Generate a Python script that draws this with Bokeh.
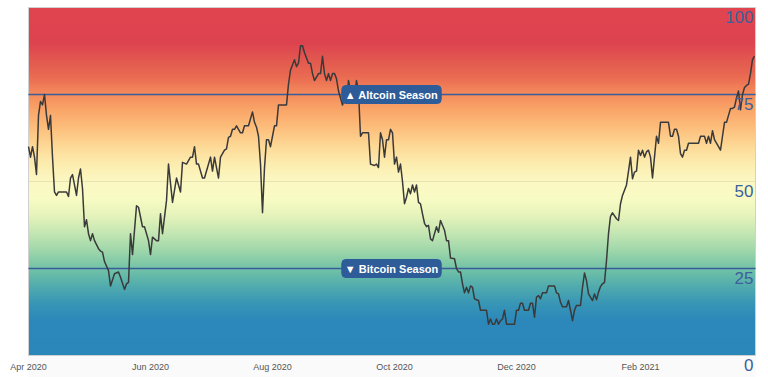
import numpy as np
import pandas as pd
from bokeh.plotting import figure
from bokeh.models import Range1d, Label, ColumnDataSource
from bokeh.core.properties import value
from bokeh.embed import file_html
from bokeh.resources import INLINE

# ---------------- data ----------------
start_date = "2020-04-01"
end_day = 363.5

day_offsets = [
    0, 1, 2, 3, 4, 5, 6, 7, 8, 9, 10, 11, 12, 13, 14, 15, 17, 19, 20, 21, 22, 23, 24, 25, 26, 27,
    28, 29, 30, 31, 32, 33, 35, 36, 37, 38, 40, 41, 43, 45, 46, 48, 49, 50, 51, 52, 54, 55, 57, 58,
    60, 61, 62, 64, 65, 66, 67, 69, 70, 72, 74, 76, 77, 79, 81, 82, 83, 84, 85, 87, 88, 89, 91, 92,
    93, 95, 96, 98, 99, 100, 101, 102, 103, 104, 106, 107, 108, 110, 112, 113, 114, 115, 116, 117,
    118, 119, 120, 121, 122, 123, 124, 125, 126, 129, 130, 131, 133, 134, 135, 136, 137, 138, 140,
    141, 142, 143, 145, 146, 147, 148, 149, 150, 151, 152, 153, 154, 155, 157, 158, 159, 160, 161,
    163, 164, 165, 166, 167, 169, 170, 171, 173, 174, 175, 176, 177, 178, 179, 180, 181, 182, 183,
    184, 185, 186, 187, 188, 189, 190, 191, 192, 193, 194, 195, 196, 197, 198, 199, 200, 201, 202,
    204, 205, 206, 208, 209, 210, 211, 213, 214, 215, 216, 217, 218, 219, 220, 221, 222, 223, 224,
    225, 226, 228, 229, 230, 231, 232, 233, 234, 235, 236, 237, 238, 239, 240, 241, 243, 244, 245,
    246, 247, 248, 250, 251, 252, 253, 254, 255, 256, 257, 259, 260, 262, 263, 264, 265, 266, 267,
    269, 270, 271, 272, 273, 274, 276, 277, 278, 279, 280, 282, 283, 284, 285, 286, 287, 288, 289,
    290, 291, 292, 294, 295, 296, 297, 299, 300, 301, 302, 303, 304, 305, 306, 307, 308, 309, 310,
    311, 312, 313, 314, 315, 316, 318, 320, 321, 322, 323, 324, 325, 326, 327, 328, 329, 330, 332,
    334, 335, 336, 337, 338, 339, 340, 341, 342, 343, 345, 346, 347, 348, 349, 350, 351, 352, 353,
    354, 355, 356, 357, 358, 359, 360, 361, 362, 363,
]

index_values = [
    60, 57, 60, 57, 52, 69, 73, 72, 75, 69, 65, 69, 57, 47, 46, 47, 47, 47, 45.7, 51, 52, 49, 46, 51, 53.6, 48,
    37, 39, 35, 33, 35, 33, 30.7, 30, 29.7, 27, 24.4, 20, 23.5, 24, 22.5, 19, 20.6, 21, 35, 29, 43, 42.6, 37, 37,
    33, 29, 34, 33, 33, 40.7, 35, 44.5, 55, 44, 51, 47, 55.5, 55, 57, 57, 60, 55, 55, 51, 51, 53, 57, 53,
    57, 51, 57, 59, 59.4, 62.7, 63, 65, 65, 66, 64, 64, 66, 66, 70, 67, 65.6, 63, 55, 41,
    54, 62, 62, 60, 63, 66, 66, 72, 72, 72, 78, 82, 85, 83, 84, 89, 89, 87, 84,
    84, 81, 79, 81, 81, 86, 81, 79, 81, 79, 81, 81, 79.5, 76, 72, 74, 72.8, 79, 76,
    75, 79, 76, 63, 64, 64, 64, 55, 54.6, 55, 54, 64, 62, 57, 62, 62, 65, 64, 55,
    57, 52.7, 55, 50, 43.6, 45.5, 48, 46.5, 49, 47, 49, 44, 43.6, 40.7, 38, 37, 37.4, 33.5, 33,
    37, 35.4, 38.8, 36, 33, 33, 28, 27.8, 25, 24, 24, 20.6, 18, 19.6, 18, 20, 19.6, 16.3, 16,
    15.8, 13, 13, 13, 9, 10.5, 9, 9, 10.5, 9, 10, 10.5, 13, 9, 9, 9, 9, 13, 13,
    15, 15, 13, 13, 15, 15, 11, 16.8, 17.2, 16.3, 18, 18, 20, 20, 20, 18, 17.7, 15.3, 14,
    14, 15.8, 13, 10, 13, 14.4, 14.4, 19.6, 23.7, 21.5, 17.7, 15.8, 17.7, 16, 18.2, 19.8, 20.6, 21, 27.3,
    35, 40, 41, 39.3, 38.8, 43.6, 46, 49, 53, 57, 50.8, 52.7, 53, 59, 57.5, 59, 57, 58.5, 59,
    57, 51, 57, 63, 61, 67, 67, 67, 63, 63, 65, 65, 63, 58, 57, 59, 59, 61, 61,
    61, 61, 63, 63, 63, 61, 63, 61, 64.6, 62, 60, 59, 63, 67, 67, 69, 71, 71, 71.4,
    74, 76, 70.6, 75, 77, 77.6, 78, 81, 85, 86,
]

x_tick_dates = ["2020-04-01", "2020-06-01", "2020-08-01", "2020-10-01", "2020-12-01", "2021-02-01"]
x_tick_labels = ["Apr 2020", "Jun 2020", "Aug 2020", "Oct 2020", "Dec 2020", "Feb 2021"]
y_tick_values = [0, 25, 50, 75, 100]
altcoin_threshold = 75
bitcoin_threshold = 25
season_labels = ["\u25B2 Altcoin Season", "\u25BC Bitcoin Season"]
season_label_day = 181.5

# ---------------- helpers / styles ----------------
def to_ms(ts):
    return pd.Timestamp(ts).value / 1e6

DAY_MS = 86400000.0
t0 = pd.Timestamp(start_date)
dates = [t0 + pd.Timedelta(days=d) for d in day_offsets]
x_start = to_ms(t0)
x_end = to_ms(t0 + pd.Timedelta(days=end_day))

W, H = 768, 377
FRAME_L, FRAME_R, FRAME_T, FRAME_B = 28, 755, 7, 355
px_per_day = (FRAME_R - FRAME_L) / end_day
px_per_unit = (FRAME_B - FRAME_T) / 100.0
view_x0 = x_start - FRAME_L / px_per_day * DAY_MS
view_x1 = x_end + (W - FRAME_R) / px_per_day * DAY_MS
view_y1 = 100 + FRAME_T / px_per_unit
view_y0 = 0 - (H - FRAME_B) / px_per_unit

gradient_stops = [
    (0, "#2b87b9"), (10, "#2c88ba"), (15, "#3896b6"), (20, "#51acae"), (25, "#73c3a6"),
    (30, "#9dd6aa"), (35, "#c3e6b3"), (40, "#e4f3ba"), (45, "#f8fbc4"), (50, "#fbf8c3"),
    (55, "#fcedaf"), (60, "#fdda97"), (65, "#fdc07e"), (70, "#faa86b"), (75, "#f48c5c"),
    (80, "#ea6b52"), (85, "#e2584f"), (90, "#dd424f"), (100, "#e0454f"),
]

def hex_to_rgb(h):
    h = h.lstrip("#")
    return np.array([int(h[i:i + 2], 16) for i in (0, 2, 4)], dtype=float)

stop_pos = np.array([s[0] for s in gradient_stops], dtype=float)
stop_rgb = np.array([hex_to_rgb(s[1]) for s in gradient_stops])

n_rows = 348
row_mid = (np.arange(n_rows) + 0.5) / n_rows * 100.0  # row 0 = bottom
img = np.zeros((n_rows, 1), dtype=np.uint32)
view = img.view(dtype=np.uint8).reshape((n_rows, 1, 4))
for k in range(3):
    view[:, 0, k] = np.round(np.interp(row_mid, stop_pos, stop_rgb[:, k])).astype(np.uint8)
view[:, 0, 3] = 255

p = figure(
    width=W, height=H, output_backend="svg", toolbar_location=None,
    x_range=Range1d(view_x0, view_x1), y_range=Range1d(view_y0, view_y1),
    min_border=0, min_border_left=0, min_border_right=0, min_border_top=0, min_border_bottom=0,
)
p.background_fill_color = "white"
p.border_fill_color = "white"
p.outline_line_color = None
p.grid.visible = False
p.axis.visible = False

# soft shadow under the chart area
p.quad(left=[x_start], right=[x_end], bottom=[-6.3], top=[0], fill_color="#f6f6f6",
       fill_alpha=0.6, line_color=None)

# background gradient
p.image_rgba(image=[img], x=x_start, y=0, dw=x_end - x_start, dh=100)

# faint grid line at 50
p.segment(x0=[x_start], x1=[x_end], y0=[50], y1=[50], line_color="#000000",
          line_alpha=0.08, line_width=1)

# frame outline
p.quad(left=[x_start], right=[x_end], bottom=[0], top=[100], fill_color=None,
       line_color="#d0d0d0", line_width=1)

# thresholds
p.segment(x0=[x_start, x_start], x1=[x_end, x_end], y0=[altcoin_threshold, bitcoin_threshold],
          y1=[altcoin_threshold, bitcoin_threshold], line_color="#3a5d9a", line_width=1.6)

# data line
src = ColumnDataSource(dict(x=[to_ms(d) for d in dates], y=index_values))
p.line("x", "y", source=src, line_color="#3a3a3a", line_width=1.5, line_join="round")

# season labels
label_x = to_ms(t0 + pd.Timedelta(days=season_label_day))
for txt, thr in zip(season_labels, (altcoin_threshold, bitcoin_threshold)):
    p.add_layout(Label(
        x=label_x, y=thr, text=txt, text_align="center", text_baseline="middle",
        text_color="white", text_font="Liberation Sans", text_font_style="bold",
        text_font_size="11px", background_fill_color="#2e5c99",
        border_line_color="#2e5c99", padding=3, border_radius=4,
    ))

# y tick labels (inside, right)
p.text(x=[x_end] * len(y_tick_values), y=y_tick_values, text=[str(v) for v in y_tick_values],
       x_offset=-2, y_offset=3, text_align="right", text_baseline="top",
       text_color="#3d5f9b", text_font=value("Liberation Sans"), text_font_size="17px")

# x tick labels
p.text(x=[to_ms(d) for d in x_tick_dates], y=[0] * len(x_tick_dates), text=x_tick_labels,
       y_offset=11, text_align="center", text_baseline="middle",
       text_color="#555555", text_font=value("Liberation Sans"), text_font_size="9px")

open("out.html", "w").write(file_html(p, INLINE))
